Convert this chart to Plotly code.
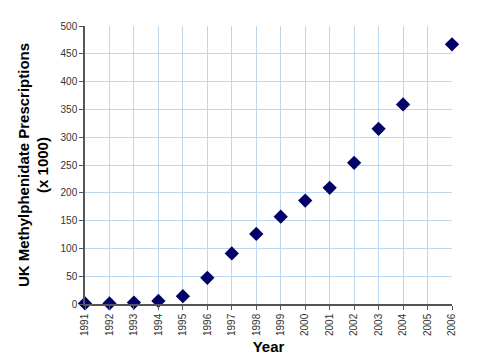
import plotly.graph_objects as go

years = list(range(1991, 2007))
prescriptions = [1, 1, 2.5, 5.5, 14, 47, 91, 126, 157, 186, 209, 254, 315, 359, None, 467]
y_ticks = [0, 50, 100, 150, 200, 250, 300, 350, 400, 450, 500]

fig = go.Figure()
fig.add_trace(go.Scatter(
    x=years, y=prescriptions, mode="markers",
    marker=dict(symbol="diamond", size=11, color="#000066"),
    cliponaxis=False, showlegend=False,
))
fig.update_layout(
    width=480, height=364,
    margin=dict(l=77, r=36, t=12, b=68),
    paper_bgcolor="white", plot_bgcolor="white",
    font=dict(family="Arial, Liberation Sans, sans-serif", color="#333333"),
)
fig.update_xaxes(
    range=[1991, 2006], tickmode="array", tickvals=years,
    ticktext=[str(y) for y in years], tickangle=-90,
    tickfont=dict(size=10, color="#333333"),
    showgrid=True, gridcolor="#bcd8f0", gridwidth=1,
    showline=True, linecolor="#555555", linewidth=1.5,
    ticks="outside", ticklen=4, tickcolor="#555555",
    zeroline=False,
    title=dict(text="<b>Year</b>", font=dict(size=15, color="black"), standoff=6),
)
fig.update_yaxes(
    range=[0, 500], tickmode="array", tickvals=y_ticks,
    tickfont=dict(size=10, color="#333333"),
    showgrid=True, gridcolor="#bcd8f0", gridwidth=1,
    showline=True, linecolor="#555555", linewidth=1.5,
    ticks="outside", ticklen=4, tickcolor="#555555",
    zeroline=False,
    title=dict(text="<b>UK Methylphenidate Prescriptions<br>(x 1000)</b>",
               font=dict(size=15, color="black"), standoff=8),
)
fig.write_html("out.html")
